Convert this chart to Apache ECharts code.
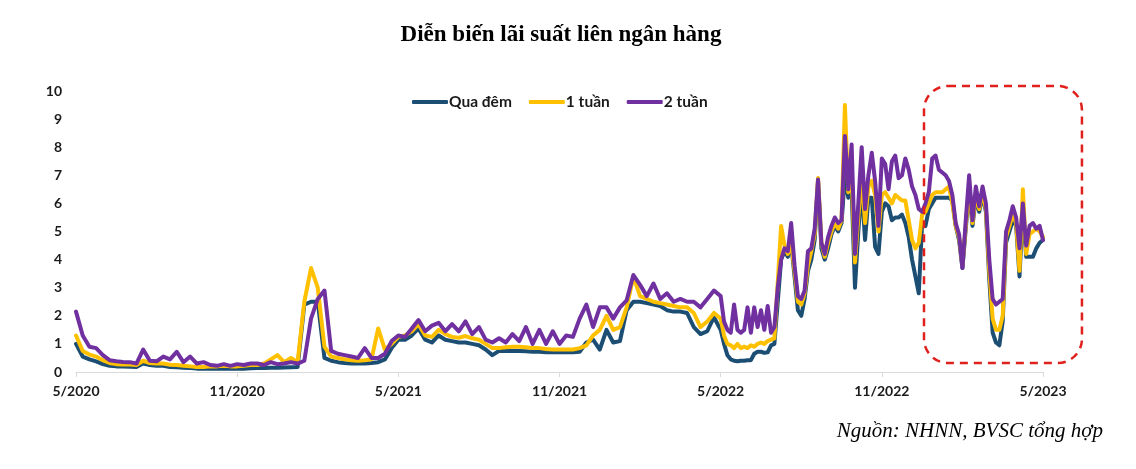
<!DOCTYPE html>
<html><head><meta charset="utf-8">
<script src="https://cdn.jsdelivr.net/npm/echarts@6/dist/echarts.min.js"></script>
<style>html,body{margin:0;padding:0;background:#fff}#c{width:1136px;height:469px}</style>
</head><body><div id="c"></div>
<script>
const xLabels = ['5/2020','11/2020','5/2021','11/2021','5/2022','11/2022','5/2023'];
const seriesNames = ['Qua đêm','1 tuần','2 tuần'];

// weekly readings 5/2020 -> 5/2022 (96 values), then half-weekly 5/2022 -> 5/2023 (97 values)
const quaDem = [
 1.0,0.55,0.45,0.38,0.28,0.22,0.2,0.2,0.19,0.18,
 0.3,0.25,0.22,0.22,0.18,0.17,0.15,0.14,0.12,0.12,
 0.12,0.12,0.12,0.12,0.12,0.12,0.13,0.14,0.14,0.15,
 0.15,0.16,0.17,0.18,2.4,2.5,2.5,0.5,0.4,0.35,
 0.32,0.3,0.3,0.3,0.32,0.35,0.45,0.85,1.15,1.15,
 1.3,1.55,1.15,1.05,1.3,1.15,1.1,1.05,1.05,1.0,
 0.95,0.8,0.6,0.75,0.75,0.76,0.75,0.74,0.72,0.72,
 0.7,0.7,0.7,0.7,0.7,0.72,1.05,1.15,0.8,1.5,
 1.05,1.1,2.2,2.5,2.5,2.45,2.4,2.35,2.2,2.15,
 2.15,2.1,1.6,1.35,1.45,1.95,
 1.5,1.0,0.6,0.45,0.4,0.38,0.4,0.4,0.42,0.42,
 0.65,0.72,0.72,0.68,0.7,0.95,1.0,2.5,4.0,4.3,
 4.1,4.6,3.4,2.2,2.0,2.6,3.6,4.0,4.7,6.8,
 4.4,4.0,4.4,4.9,5.2,5.0,5.3,7.0,6.2,6.5,
 3.0,5.0,6.6,4.7,6.2,6.2,4.45,4.2,5.7,6.0,
 5.9,5.4,5.5,5.5,5.6,5.3,4.8,4.0,3.4,2.8,
 5.3,5.2,5.8,6.0,6.2,6.2,6.2,6.2,6.2,6.1,
 5.2,4.7,3.7,5.1,6.5,5.2,6.2,5.7,6.3,5.7,
 3.3,1.4,1.05,0.95,1.8,4.6,5.0,5.4,5.2,3.4,
 5.8,4.1,4.1,4.1,4.4,4.6,4.7
];
const tuan1 = [
 1.3,0.75,0.62,0.55,0.42,0.32,0.28,0.27,0.27,0.25,
 0.4,0.32,0.3,0.3,0.26,0.25,0.22,0.2,0.18,0.18,
 0.2,0.2,0.22,0.2,0.2,0.22,0.25,0.25,0.3,0.45,
 0.6,0.35,0.5,0.35,2.5,3.7,3.0,0.9,0.55,0.5,
 0.45,0.42,0.4,0.42,0.45,1.55,0.8,1.0,1.25,1.3,
 1.45,1.7,1.3,1.25,1.5,1.35,1.25,1.22,1.28,1.2,
 1.15,1.0,0.85,0.85,0.88,0.9,0.9,0.88,0.85,0.85,
 0.82,0.8,0.8,0.8,0.8,0.85,0.95,1.3,1.5,2.0,
 1.5,1.6,2.3,3.4,2.7,2.6,2.5,2.45,2.4,2.35,
 2.3,2.3,2.1,1.6,1.8,2.1,
 1.9,1.3,1.0,0.95,0.85,1.0,0.85,0.9,0.85,0.95,
 0.9,1.0,1.05,1.0,1.1,1.15,1.2,3.2,5.2,4.5,
 4.2,4.6,3.6,2.5,2.4,2.8,3.8,4.3,4.9,6.9,
 4.6,4.1,4.6,5.0,5.3,5.1,5.4,9.5,6.4,7.0,
 3.9,5.5,7.0,5.3,6.6,6.8,6.3,5.0,6.3,6.4,
 6.2,6.0,6.3,6.2,6.1,6.1,5.4,4.7,4.4,4.6,
 5.6,5.7,6.0,6.3,6.4,6.4,6.4,6.5,6.6,6.0,
 5.2,4.8,3.8,5.2,6.6,5.3,6.3,5.8,6.4,5.8,
 3.6,1.9,1.5,1.5,2.0,4.8,5.2,5.6,5.3,3.6,
 6.5,4.2,4.9,5.0,5.1,5.0,4.8
];
const tuan2 = [
 2.15,1.3,0.9,0.85,0.6,0.42,0.38,0.36,0.35,0.3,
 0.8,0.4,0.38,0.55,0.45,0.72,0.35,0.55,0.3,0.35,
 0.25,0.22,0.28,0.22,0.28,0.25,0.3,0.3,0.25,0.35,
 0.28,0.3,0.35,0.3,0.4,1.9,2.6,2.9,0.75,0.65,
 0.6,0.55,0.5,0.85,0.5,0.5,0.65,1.1,1.3,1.25,
 1.55,1.85,1.45,1.65,1.75,1.45,1.7,1.45,1.8,1.35,
 1.6,1.15,1.05,1.2,1.05,1.35,1.1,1.6,1.0,1.5,
 1.0,1.45,1.0,1.3,1.25,1.9,2.4,1.6,2.3,2.3,
 1.9,2.3,2.55,3.45,3.1,2.7,3.15,2.6,2.8,2.5,
 2.6,2.5,2.5,2.3,2.6,2.9,
 2.7,1.8,1.5,1.4,2.4,1.5,1.4,1.5,2.3,1.4,
 2.3,1.6,2.2,1.5,2.35,1.4,1.6,3.0,4.0,4.4,
 4.3,5.3,3.8,2.7,2.6,2.9,4.3,4.4,5.1,6.85,
 4.6,4.2,4.8,5.2,5.5,5.3,5.4,8.4,6.5,8.1,
 4.2,6.0,8.0,5.8,7.0,7.8,6.8,5.2,7.6,7.4,
 6.5,7.5,7.7,6.9,7.0,7.6,7.2,6.6,6.3,5.8,
 5.7,6.0,6.4,7.6,7.7,7.2,7.1,7.0,6.8,6.3,
 5.3,4.9,3.7,5.4,7.0,5.4,6.6,5.9,6.6,6.0,
 4.0,2.6,2.4,2.5,2.6,5.0,5.4,5.9,5.5,4.4,
 6.0,4.5,5.2,5.3,5.1,5.2,4.7
];
const colors = ['#1c4e74','#ffc000','#7030a0'];

// x position of each reading, in months since 5/2020
const months = [];
for (let i = 0; i < 96; i++) months.push(i * 0.25);
for (let k = 0; k <= 96; k++) months.push(24 + k * 0.125);
const pair = arr => arr.map((v, i) => [months[i], v]);

const chart = echarts.init(document.getElementById('c'), null, {renderer: 'canvas'});
const axisFont = {fontFamily: 'Lato', fontWeight: 'bold', fontSize: 14, color: '#1a1a1a'};
chart.setOption({
  animation: false,
  title: {
    text: 'Diễn biến lãi suất liên ngân hàng', left: 556, top: 19, textAlign: 'center',
    textStyle: {fontFamily: 'Liberation Serif', fontWeight: 'bold', fontSize: 23, color: '#000'}
  },
  legend: {
    left: 407, top: 89, icon: 'roundRect', itemWidth: 36, itemHeight: 4, itemGap: 17,
    textStyle: {fontFamily: 'Lato', fontWeight: 'bold', fontSize: 15.5, color: '#1a1a1a', padding: [0, 0, 0, -4]},
    data: seriesNames
  },
  grid: {left: 76, right: 93, top: 91, bottom: 97},
  xAxis: {
    type: 'value', min: 0, max: 36, interval: 6,
    axisLine: {lineStyle: {color: '#d9d9d9', width: 1}},
    axisTick: {show: true, length: 5, lineStyle: {color: '#d9d9d9'}},
    splitLine: {show: false},
    axisLabel: Object.assign({margin: 12, formatter: v => xLabels[Math.round(v / 6)]}, axisFont)
  },
  yAxis: {
    type: 'value', min: 0, max: 10, interval: 1,
    axisLine: {show: false}, axisTick: {show: false}, splitLine: {show: false},
    axisLabel: Object.assign({margin: 14}, axisFont)
  },
  series: [quaDem, tuan1, tuan2].map((arr, idx) => ({
    name: seriesNames[idx], type: 'line', data: pair(arr), showSymbol: false, symbol: 'none',
    color: colors[idx],
    lineStyle: {width: 4, color: colors[idx], cap: 'round', join: 'round'}
  }))
});

// dashed highlight box around the last months (in data space)
const p1 = chart.convertToPixel({gridIndex: 0}, [31.57, 10.18]);
const p2 = chart.convertToPixel({gridIndex: 0}, [37.45, 0.32]);
chart.setOption({
  graphic: [
    {type: 'rect', shape: {x: p1[0], y: p1[1], width: p2[0] - p1[0], height: p2[1] - p1[1], r: 24},
     style: {fill: 'none', stroke: '#e0201c', lineWidth: 2.5, lineDash: [8, 6]}, z: 10},
    {type: 'text', x: 1103, y: 431,
     style: {text: 'Nguồn: NHNN, BVSC tổng hợp', textAlign: 'right', textVerticalAlign: 'middle',
             font: 'italic 21px "Liberation Serif"', fill: '#000'}}
  ]
});
</script></body></html>
